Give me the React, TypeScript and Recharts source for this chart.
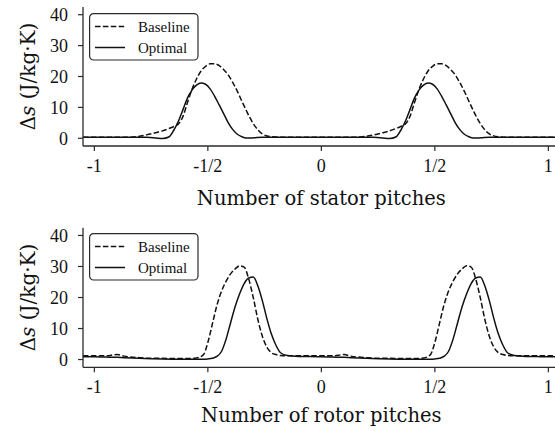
import { CartesianGrid, Label, Legend, Line, LineChart, XAxis, YAxis } from "recharts";

const xTicks = [-1, -0.5, 0, 0.5, 1];
const xTickLabels = ["-1", "-1/2", "0", "1/2", "1"];
const yTicks = [0, 10, 20, 30, 40];
const seriesNames = ["Baseline", "Optimal"];

const statorX = [
  -1.05, -0.97,
  -0.9, -0.83, -0.77, -0.73, -0.7, -0.67, -0.65, -0.63, -0.61, -0.59, -0.57, -0.55, -0.53, -0.51,
  -0.49, -0.47, -0.45, -0.43, -0.41, -0.39, -0.37, -0.35, -0.33, -0.31, -0.29, -0.26, -0.22, -0.15,
  -0.05, 0.03,
  0.1, 0.17, 0.23, 0.27, 0.3, 0.33, 0.35, 0.37, 0.39, 0.41, 0.43, 0.45, 0.47, 0.49,
  0.51, 0.53, 0.55, 0.57, 0.59, 0.61, 0.63, 0.65, 0.67, 0.69, 0.71, 0.74, 0.78, 0.85,
  0.95, 1.05,
];
const statorBaseline = [
  0.3, 0.3,
  0.3, 0.4, 1.1, 1.8, 2.4, 3.2, 3.8, 4.6, 7.0, 11.5, 15.8, 19.2, 21.8, 23.3,
  24.1, 24.1, 23.5, 22.2, 20.5, 18.0, 15.2, 12.0, 8.9, 6.0, 3.7, 1.4, 0.5, 0.3,
  0.3, 0.3,
  0.3, 0.4, 1.1, 1.8, 2.4, 3.2, 3.8, 4.6, 7.0, 11.5, 15.8, 19.2, 21.8, 23.3,
  24.1, 24.1, 23.5, 22.2, 20.5, 18.0, 15.2, 12.0, 8.9, 6.0, 3.7, 1.4, 0.5, 0.3,
  0.3, 0.3,
];
const statorOptimal = [
  0.3, 0.3,
  0.3, 0.3, 0.3, 0.1, -0.1, 0.5, 2.6, 5.5, 9.2, 13.0, 15.6, 17.2, 17.9, 17.5,
  16.0, 13.6, 10.8, 7.9, 5.0, 2.8, 1.3, 0.5, 0.1, 0.1, 0.2, 0.3, 0.3, 0.3,
  0.3, 0.3,
  0.3, 0.3, 0.3, 0.1, -0.1, 0.5, 2.6, 5.5, 9.2, 13.0, 15.6, 17.2, 17.9, 17.5,
  16.0, 13.6, 10.8, 7.9, 5.0, 2.8, 1.3, 0.5, 0.1, 0.1, 0.2, 0.3, 0.3, 0.3,
  0.3, 0.3,
];

const rotorX = [
  -1.05,
  -1.0, -0.95, -0.9, -0.87, -0.8, -0.75, -0.7, -0.65, -0.6, -0.55, -0.52, -0.5, -0.48, -0.46, -0.44,
  -0.42, -0.4, -0.38, -0.36, -0.34, -0.32, -0.3, -0.28, -0.26, -0.24, -0.22, -0.2, -0.18, -0.15,
  -0.1, -0.05,
  0.0, 0.05, 0.1, 0.13, 0.2, 0.25, 0.3, 0.35, 0.4, 0.45, 0.48, 0.5, 0.52, 0.54, 0.56,
  0.58, 0.6, 0.62, 0.64, 0.66, 0.68, 0.7, 0.72, 0.74, 0.76, 0.78, 0.8, 0.82, 0.85,
  0.9, 0.95, 1.0, 1.05,
];
const rotorBaseline = [
  1.2,
  1.2, 1.2, 1.6, 1.1, 0.6, 0.4, 0.4, 0.3, 0.3, 0.5, 1.5, 5.5, 11.5, 17.5, 22.0,
  25.2, 27.6, 29.2, 30.2, 29.8, 26.0, 20.0, 13.0, 7.5, 4.0, 2.2, 1.6, 1.3, 1.2,
  1.2, 1.2,
  1.2, 1.2, 1.6, 1.1, 0.6, 0.4, 0.4, 0.3, 0.3, 0.5, 1.5, 5.5, 11.5, 17.5, 22.0,
  25.2, 27.6, 29.2, 30.2, 29.8, 26.0, 20.0, 13.0, 7.5, 4.0, 2.2, 1.6, 1.3, 1.2,
  1.2, 1.2, 1.2, 1.2,
];
const rotorOptimal = [
  0.9,
  0.9, 0.8, 0.7, 0.6, 0.4, 0.25, 0.15, 0.1, 0.1, 0.1, 0.1, 0.2, 0.4, 1.0, 2.6,
  6.5, 11.8, 17.0, 21.2, 24.5, 26.3, 26.6, 23.8, 19.0, 13.2, 8.2, 4.6, 2.2, 1.3,
  1.0, 0.95,
  0.9, 0.8, 0.7, 0.6, 0.4, 0.25, 0.15, 0.1, 0.1, 0.1, 0.1, 0.2, 0.4, 1.0, 2.6,
  6.5, 11.8, 17.0, 21.2, 24.5, 26.3, 26.6, 23.8, 19.0, 13.2, 8.2, 4.6, 2.2, 1.3,
  1.0, 0.95, 0.9, 0.9,
];

const INK = "#111";
const AXIS = "#2b2b2b";
const TICK_FONT = "'Liberation Serif', serif";
const LABEL_FONT = "'DejaVu Serif', serif";
const DASH = "5.5 2.4";

type Row = { x: number; baseline: number; optimal: number };

function toRows(xs: number[], base: number[], opt: number[]): Row[] {
  return xs.map((x, i) => ({ x, baseline: base[i], optimal: opt[i] }));
}

function LegendBox() {
  return (
    <svg width={110} height={48} style={{ display: "block" }}>
      <rect x={0.6} y={0.6} width={108.4} height={46.4} rx={4} fill="#fff" stroke={AXIS} strokeWidth={1.2} />
      <line x1={6} x2={36} y1={13.5} y2={13.5} stroke={INK} strokeWidth={1.5} strokeDasharray={DASH} />
      <line x1={6} x2={36} y1={34.5} y2={34.5} stroke={INK} strokeWidth={1.5} />
      <text x={49} y={13.5} dominantBaseline="central" fontFamily={TICK_FONT} fontSize={15} fill={INK}>
        {seriesNames[0]}
      </text>
      <text x={49} y={34.5} dominantBaseline="central" fontFamily={TICK_FONT} fontSize={15} fill={INK}>
        {seriesNames[1]}
      </text>
    </svg>
  );
}

type PanelProps = {
  top: number;
  height: number;
  plotTop: number;
  plotHeight: number;
  labelGap: number;
  xLabel: string;
  rows: Row[];
};

function Panel({ top, height, plotTop, plotHeight, labelGap, xLabel, rows }: PanelProps) {
  const xAxisHeight = height - plotTop - plotHeight;
  return (
    <div style={{ position: "absolute", left: 0, top }}>
      <LineChart
        width={600}
        height={height}
        data={rows}
        margin={{ top: plotTop, right: 40.3, bottom: 0, left: 0 }}
      >
        <CartesianGrid stroke="none" />
        <XAxis
          dataKey="x"
          type="number"
          domain={[-1.05, 1.05]}
          ticks={xTicks}
          interval={0}
          allowDataOverflow
          height={xAxisHeight}
          tickSize={5}
          tickMargin={8}
          axisLine={{ stroke: AXIS, strokeWidth: 1.3 }}
          tickLine={{ stroke: AXIS, strokeWidth: 1.2 }}
          tick={{ fontFamily: TICK_FONT, fontSize: 18, fill: INK }}
          tickFormatter={(v: number) => xTickLabels[xTicks.indexOf(v)] ?? String(v)}
        >
          <Label
            content={({ viewBox }: any) => (
              <text
                x={viewBox.x + viewBox.width / 2}
                y={viewBox.y + labelGap}
                textAnchor="middle"
                dominantBaseline="central"
                fontFamily={LABEL_FONT}
                fontSize={19.5}
                fill={INK}
              >
                {xLabel}
              </text>
            )}
          />
        </XAxis>
        <XAxis
          xAxisId="frame"
          orientation="top"
          dataKey="x"
          type="number"
          domain={[-1.05, 1.05]}
          height={0}
          tick={false}
          tickLine={false}
          axisLine={{ stroke: AXIS, strokeWidth: 1.3 }}
        />
        <YAxis
          type="number"
          domain={[-2.5, 42.5]}
          ticks={yTicks}
          interval={0}
          allowDataOverflow
          width={83}
          tickSize={5}
          tickMargin={10}
          axisLine={{ stroke: AXIS, strokeWidth: 1.3 }}
          tickLine={{ stroke: AXIS, strokeWidth: 1.2 }}
          tick={{ fontFamily: TICK_FONT, fontSize: 18, fill: INK }}
        >
          <Label
            content={({ viewBox }: any) => {
              const cx = 27.5;
              const cy = viewBox.y + viewBox.height / 2;
              return (
                <text
                  x={cx}
                  y={cy}
                  transform={`rotate(-90, ${cx}, ${cy})`}
                  textAnchor="middle"
                  dominantBaseline="central"
                  fontFamily={LABEL_FONT}
                  fontSize={20}
                  fill={INK}
                >
                  Δ<tspan fontStyle="italic">s</tspan> (J/kg·K)
                </text>
              );
            }}
          />
        </YAxis>
        <Legend
          layout="horizontal"
          verticalAlign="middle"
          align="center"
          content={() => <LegendBox />}
          wrapperStyle={{ position: "absolute", left: 89, top: plotTop + 5.5, width: 110, height: 48 }}
        />
        <Line
          dataKey="baseline"
          name={seriesNames[0]}
          type="monotone"
          stroke={INK}
          strokeWidth={1.5}
          strokeDasharray={DASH}
          dot={false}
          isAnimationActive={false}
        />
        <Line
          dataKey="optimal"
          name={seriesNames[1]}
          type="monotone"
          stroke={INK}
          strokeWidth={1.5}
          dot={false}
          isAnimationActive={false}
        />
      </LineChart>
    </div>
  );
}

export default function App() {
  return (
    <div
      style={{
        position: "fixed",
        left: 0,
        top: 0,
        width: 555,
        height: 431,
        overflow: "hidden",
        background: "#fff",
      }}
    >
      <Panel
        top={0}
        height={215}
        plotTop={7}
        plotHeight={139}
        labelGap={52}
        xLabel="Number of stator pitches"
        rows={toRows(statorX, statorBaseline, statorOptimal)}
      />
      <Panel
        top={215}
        height={216}
        plotTop={12.7}
        plotHeight={139.6}
        labelGap={48}
        xLabel="Number of rotor pitches"
        rows={toRows(rotorX, rotorBaseline, rotorOptimal)}
      />
    </div>
  );
}
